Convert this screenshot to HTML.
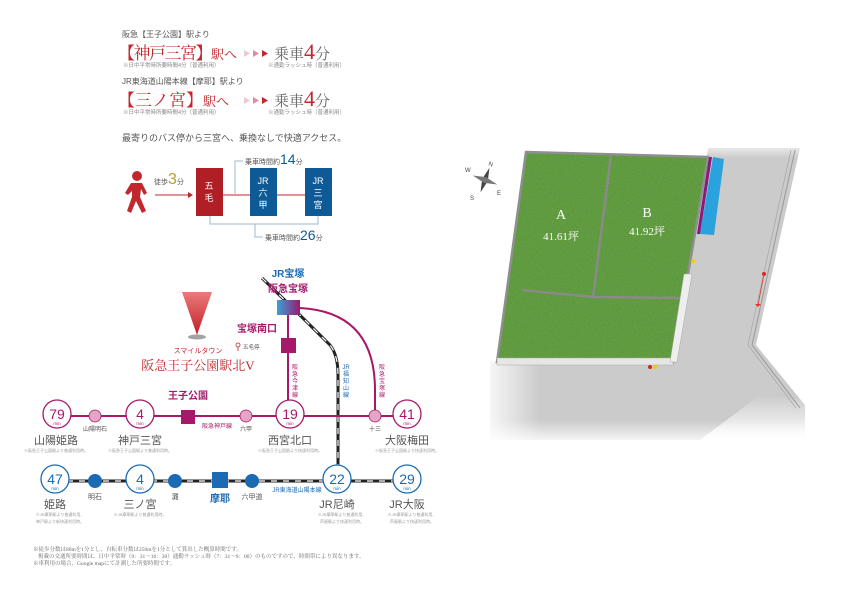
<!DOCTYPE html>
<html><head><meta charset="utf-8"><style>
html,body{margin:0;padding:0;background:#fff;}
svg{display:block;font-family:"Liberation Sans","Noto Sans CJK JP",sans-serif;}
.s{font-family:"Liberation Serif","Noto Serif CJK SC",serif;}
</style></head><body>
<svg width="842" height="595" viewBox="0 0 842 595" xmlns="http://www.w3.org/2000/svg">
<defs>
<filter id="grass" x="0" y="0" width="100%" height="100%" filterUnits="userSpaceOnUse">
<feTurbulence type="fractalNoise" baseFrequency="0.8" numOctaves="2" seed="3"/>
<feColorMatrix type="matrix" values="0.3 0 0 0 0.12  0.5 0 0 0 0.28  0.15 0 0 0 0.06  0 0 0 0 1"/>
</filter>
<clipPath id="lots"><polygon points="526,152 708,157 673,362 497,362"/></clipPath>
<linearGradient id="fadeL" x1="0" x2="1"><stop offset="0" stop-color="#fff"/><stop offset="1" stop-color="#fff" stop-opacity="0"/></linearGradient>
<linearGradient id="fadeT" x1="0" y1="0" x2="0" y2="1"><stop offset="0" stop-color="#fff"/><stop offset="1" stop-color="#fff" stop-opacity="0"/></linearGradient>
<linearGradient id="fadeB" x1="0" y1="1" x2="0" y2="0"><stop offset="0" stop-color="#fff"/><stop offset="1" stop-color="#fff" stop-opacity="0"/></linearGradient>
<linearGradient id="tz" x1="0" x2="1"><stop offset="0" stop-color="#3aa0dc"/><stop offset="1" stop-color="#9a1a6a"/></linearGradient>
<linearGradient id="tri" x1="0" y1="0" x2="0" y2="1"><stop offset="0" stop-color="#ec7a7a"/><stop offset="1" stop-color="#c0202a"/></linearGradient>
</defs>

<!-- ROAD / SITE -->
<polygon points="680,148 800,148 756,345 805,405 805,440 490,440 490,362 673,362 708,148" fill="#cbcbcb"/>
<rect x="480" y="140" width="60" height="305" fill="url(#fadeL)"/>
<rect x="680" y="140" width="130" height="18" fill="url(#fadeT)"/>
<polygon points="700,440 820,440 820,400 760,395" fill="url(#fadeB)"/>
<rect x="480" y="420" width="340" height="25" fill="url(#fadeB)"/>
<polyline points="795,150 752,345 800,408" fill="none" stroke="#999" stroke-width="1"/>
<polyline points="791,150 748,345 796,408" fill="none" stroke="#aaa" stroke-width="0.8"/>
<circle cx="764" cy="274" r="2" fill="#d22"/><line x1="764" y1="274" x2="758" y2="305" stroke="#e33" stroke-width="0.8"/>
<path d="M755,304 l3,3 3,-3z" fill="#e33"/>
<!-- lots -->
<polygon points="526,152 708,157 673,362 497,362" fill="#4e8c32"/>
<g clip-path="url(#lots)" opacity="0.3">
<rect x="490" y="150" width="225" height="215" filter="url(#grass)"/>
</g>
<polygon points="526,152 708,157 673,362 497,362" fill="none" stroke="#8f8f8f" stroke-width="2.5"/>
<line x1="611" y1="155" x2="593" y2="297" stroke="#8a8a8a" stroke-width="2.5"/>
<polyline points="522,290 593,297 682,298" fill="none" stroke="#8a8a8a" stroke-width="2.5"/>
<rect x="497" y="358" width="176" height="7" fill="#e6e6e6" stroke="#aaa" stroke-width="0.5"/>
<polygon points="684,274 692,274 677,362 670,362" fill="#eee" stroke="#aaa" stroke-width="0.5"/>
<polygon points="713,157 724,159 714,235 700,234" fill="#2aa2de"/>
<polygon points="709,157 712,157 700,234 697,234" fill="#8a1a7a"/>
<circle cx="693" cy="261" r="2" fill="#ec0"/><circle cx="650" cy="367" r="2" fill="#d22"/><circle cx="655" cy="367" r="2" fill="#ec0"/>
<g fill="#fff" text-anchor="middle" class="s">
<text x="561" y="219" font-size="14">A</text><text x="561" y="240" font-size="11">41.61坪</text>
<text x="647" y="217" font-size="14">B</text><text x="647" y="235" font-size="11">41.92坪</text>
</g>
<!-- compass -->
<g transform="translate(485,180) rotate(20)">
<polygon points="0,-13 3,0 0,13 -3,0" fill="#444"/><polygon points="-13,0 0,3 13,0 0,-3" fill="#777"/>
<text x="0" y="-15" font-size="6" text-anchor="middle" fill="#444">N</text>
</g>
<text x="465" y="172" font-size="6" fill="#444">W</text><text x="470" y="200" font-size="6" fill="#444">S</text><text x="497" y="195" font-size="6" fill="#444">E</text>

<!-- TOP TEXT -->
<g fill="#555">
<text x="122" y="37" font-size="8">阪急【王子公園】駅より</text>
<text x="122" y="84" font-size="8">JR東海道山陽本線【摩耶】駅より</text>
</g>
<g fill="#c0282e" class="s">
<text x="118" y="59" font-size="17" letter-spacing="-1.5">【神戸三宮】<tspan font-size="13" letter-spacing="0">駅へ</tspan></text>
<text x="118" y="106" font-size="17">【三ノ宮】<tspan font-size="13">駅へ</tspan></text>
</g>
<g>
<path d="M244,50 l6,3.5 -6,3.5z" fill="#f2c8d0"/><path d="M253,50 l6,3.5 -6,3.5z" fill="#e08aa0"/><path d="M262,50 l6,3.5 -6,3.5z" fill="#c0282e"/>
<path d="M244,97 l6,3.5 -6,3.5z" fill="#f2c8d0"/><path d="M253,97 l6,3.5 -6,3.5z" fill="#e08aa0"/><path d="M262,97 l6,3.5 -6,3.5z" fill="#c0282e"/>
</g>
<g fill="#666" class="s">
<text x="274" y="59" font-size="15">乗車<tspan fill="#c0282e" font-size="22">4</tspan>分</text>
<text x="274" y="106" font-size="15">乗車<tspan fill="#c0282e" font-size="22">4</tspan>分</text>
</g>
<g fill="#888" font-size="5.5">
<text x="123" y="67">※日中平常時所要時間4分（普通利用）</text><text x="268" y="67">※通勤ラッシュ時（普通利用）</text>
<text x="123" y="114">※日中平常時所要時間4分（普通利用）</text><text x="268" y="114">※通勤ラッシュ時（普通利用）</text>
</g>

<!-- BUS -->
<text x="122" y="141" font-size="9" fill="#555">最寄りのバス停から三宮へ、乗換なしで快適アクセス。</text>
<g fill="#c0282e">
<circle cx="137" cy="176" r="5"/>
<path d="M131,183 h11 l5,10 -3,2 -3,-6 -1,8 6,14 -4,2 -6,-12 -5,12 -4,-2 5,-14 v-6 l-4,4 -3,-2z"/>
</g>
<text x="154" y="184" font-size="7" fill="#555">徒歩<tspan fill="#c09a30" font-size="16">3</tspan>分</text>
<line x1="155" y1="195" x2="188" y2="195" stroke="#c0282e" stroke-width="1"/><path d="M188,192 l5,3 -5,3z" fill="#c0282e"/>
<line x1="223" y1="195" x2="305" y2="195" stroke="#c0282e" stroke-width="1"/>
<rect x="196" y="168" width="27" height="48" fill="#b01e26"/>
<rect x="250" y="168" width="27" height="48" fill="#0e5a96"/>
<rect x="305" y="168" width="27" height="48" fill="#0e5a96"/>
<g fill="#fff" font-size="9" text-anchor="middle">
<text x="209" y="189">五</text><text x="209" y="201">毛</text>
<text x="263" y="184">JR</text><text x="263" y="196">六</text><text x="263" y="208">甲</text>
<text x="318" y="184">JR</text><text x="318" y="196">三</text><text x="318" y="208">宮</text>
</g>
<polyline points="235,195 235,161 243,161" fill="none" stroke="#9bb8cc" stroke-width="1"/>
<text x="245" y="164" font-size="7" fill="#555">乗車時間約<tspan fill="#0e5a96" font-size="14">14</tspan>分</text>
<polyline points="210,216 210,224 318,224 318,216" fill="none" stroke="#9bb8cc" stroke-width="1"/>
<polyline points="255,224 255,237 263,237" fill="none" stroke="#9bb8cc" stroke-width="1"/>
<text x="265" y="240" font-size="7" fill="#555">乗車時間約<tspan fill="#0e5a96" font-size="14">26</tspan>分</text>

<!-- ROUTE MAP -->
<path d="M262,278 Q300,315 330,345 Q338,355 338,375 L338,470" fill="none" stroke="#222" stroke-width="3"/>
<path d="M262,278 Q300,315 330,345 Q338,355 338,375 L338,470" fill="none" stroke="#fff" stroke-width="1.2" stroke-dasharray="6,6"/>
<path d="M300,308 Q375,312 375,390 L375,416" fill="none" stroke="#a8186a" stroke-width="2"/>
<line x1="288" y1="315" x2="288" y2="416" stroke="#a8186a" stroke-width="2"/>
<line x1="57" y1="416" x2="407" y2="416" stroke="#a8186a" stroke-width="2"/>
<rect x="277" y="300" width="23" height="15" fill="url(#tz)"/>
<rect x="281" y="338" width="15" height="15" fill="#a8186a"/>
<text x="288" y="277" font-size="10" font-weight="bold" fill="#1a6ab4" text-anchor="middle">JR宝塚</text>
<text x="288" y="292" font-size="10" font-weight="bold" fill="#a8186a" text-anchor="middle">阪急宝塚</text>
<text x="257" y="332" font-size="10" font-weight="bold" fill="#a8186a" text-anchor="middle">宝塚南口</text>
<circle cx="238" cy="345" r="2" fill="none" stroke="#c0282e" stroke-width="0.8"/><line x1="238" y1="347" x2="238" y2="351" stroke="#c0282e" stroke-width="0.8"/>
<text x="243" y="349" font-size="5.5" fill="#555">五毛停</text>
<ellipse cx="197" cy="337" rx="9" ry="2.5" fill="#666" opacity="0.6"/>
<polygon points="182,292 212,292 197,335" fill="url(#tri)"/>
<text x="198" y="353" font-size="7" fill="#c0282e" text-anchor="middle">スマイルタウン</text>
<text x="198" y="370" font-size="13" fill="#c0282e" text-anchor="middle" class="s">阪急王子公園駅北V</text>
<text x="188" y="399" font-size="10" font-weight="bold" fill="#a8186a" text-anchor="middle">王子公園</text>
<g font-size="6" fill="#a8186a" text-anchor="middle">
<text x="295" y="369">阪</text><text x="295" y="376">急</text><text x="295" y="383">今</text><text x="295" y="390">津</text><text x="295" y="397">線</text>
<text x="382" y="369">阪</text><text x="382" y="376">急</text><text x="382" y="383">宝</text><text x="382" y="390">塚</text><text x="382" y="397">線</text>
</g>
<g font-size="6" fill="#1a6ab4" text-anchor="middle">
<text x="346" y="369">JR</text><text x="346" y="376">福</text><text x="346" y="383">知</text><text x="346" y="390">山</text><text x="346" y="397">線</text>
</g>
<g fill="#fff" stroke="#a8186a" stroke-width="1.3">
<circle cx="57" cy="414" r="14"/><circle cx="140" cy="414" r="14"/><circle cx="290" cy="414" r="14"/><circle cx="407" cy="414" r="14"/>
</g>
<g fill="#e4a6c6" stroke="#a8186a" stroke-width="0.8">
<circle cx="95" cy="416" r="6"/><circle cx="246" cy="416" r="6"/><circle cx="375" cy="416" r="6"/>
</g>
<rect x="181" y="410" width="14" height="14" fill="#a8186a"/>
<g fill="#a8186a" text-anchor="middle">
<text x="57" y="419" font-size="14">79</text><text x="140" y="419" font-size="14">4</text><text x="290" y="419" font-size="14">19</text><text x="407" y="419" font-size="14">41</text>
<g font-size="4.5"><text x="57" y="425">min</text><text x="140" y="425">min</text><text x="290" y="425">min</text><text x="407" y="425">min</text></g>
<text x="217" y="428" font-size="6">阪急神戸線</text>
</g>
<g fill="#555" font-size="6" text-anchor="middle">
<text x="95" y="431">山陽明石</text><text x="246" y="431">六甲</text><text x="375" y="431">十三</text>
</g>
<g fill="#555" font-size="11" text-anchor="middle">
<text x="56" y="444">山陽姫路</text><text x="140" y="444">神戸三宮</text><text x="290" y="444">西宮北口</text><text x="407" y="444">大阪梅田</text>
</g>
<g fill="#999" font-size="4" text-anchor="middle">
<text x="56" y="452">※阪急王子公園駅より普通利用時。</text><text x="140" y="452">※阪急王子公園駅より普通利用時。</text>
<text x="290" y="452">※阪急王子公園駅より快速利用時。</text><text x="407" y="452">※阪急王子公園駅より快速利用時。</text>
</g>

<!-- JR line -->
<line x1="55" y1="481" x2="407" y2="481" stroke="#222" stroke-width="3"/>
<line x1="55" y1="481" x2="407" y2="481" stroke="#fff" stroke-width="1.2" stroke-dasharray="6,6"/>
<g fill="#fff" stroke="#1a6ab4" stroke-width="1.3">
<circle cx="55" cy="479" r="14"/><circle cx="140" cy="479" r="14"/><circle cx="337" cy="479" r="14"/><circle cx="407" cy="479" r="14"/>
</g>
<g fill="#1a6ab4">
<circle cx="95" cy="481" r="7"/><circle cx="175" cy="481" r="7"/><circle cx="252" cy="481" r="7"/>
<rect x="212" y="472" width="16" height="16"/>
</g>
<g fill="#1a6ab4" text-anchor="middle">
<text x="55" y="484" font-size="14">47</text><text x="140" y="484" font-size="14">4</text><text x="337" y="484" font-size="14">22</text><text x="407" y="484" font-size="14">29</text>
<g font-size="4.5"><text x="55" y="490">min</text><text x="140" y="490">min</text><text x="337" y="490">min</text><text x="407" y="490">min</text></g>
<text x="297" y="492" font-size="6">JR東海道山陽本線</text>
<text x="220" y="502" font-size="10" font-weight="bold">摩耶</text>
</g>
<g fill="#555" font-size="7" text-anchor="middle">
<text x="95" y="499">明石</text><text x="175" y="499">灘</text><text x="252" y="499">六甲道</text>
</g>
<g fill="#555" font-size="11" text-anchor="middle">
<text x="55" y="508">姫路</text><text x="140" y="508">三ノ宮</text><text x="337" y="508">JR尼崎</text><text x="407" y="508">JR大阪</text>
</g>
<g fill="#999" font-size="4" text-anchor="middle">
<text x="60" y="516">※JR摩耶駅より普通利用、</text><text x="60" y="523">神戸駅より新快速利用時。</text>
<text x="140" y="516">※JR摩耶駅より普通利用時。</text>
<text x="342" y="516">※JR摩耶駅より普通利用、</text><text x="342" y="523">芦屋駅より快速利用時。</text>
<text x="412" y="516">※JR摩耶駅より普通利用、</text><text x="412" y="523">芦屋駅より快速利用時。</text>
</g>
<g fill="#666" font-size="5.5" class="s">
<text x="33" y="551">※徒歩分数は80mを1分とし、自転車分数は250mを1分として算出した概算時間です。</text>
<text x="38" y="558">掲載の交通所要時間は、日中平常時（9：31〜16：30）通勤ラッシュ時（7：31〜9：00）のものですので、時間帯により異なります。</text>
<text x="33" y="565">※車利用の場合、Google mapにて計測した所要時間です。</text>
</g>
</svg>
</body></html>
